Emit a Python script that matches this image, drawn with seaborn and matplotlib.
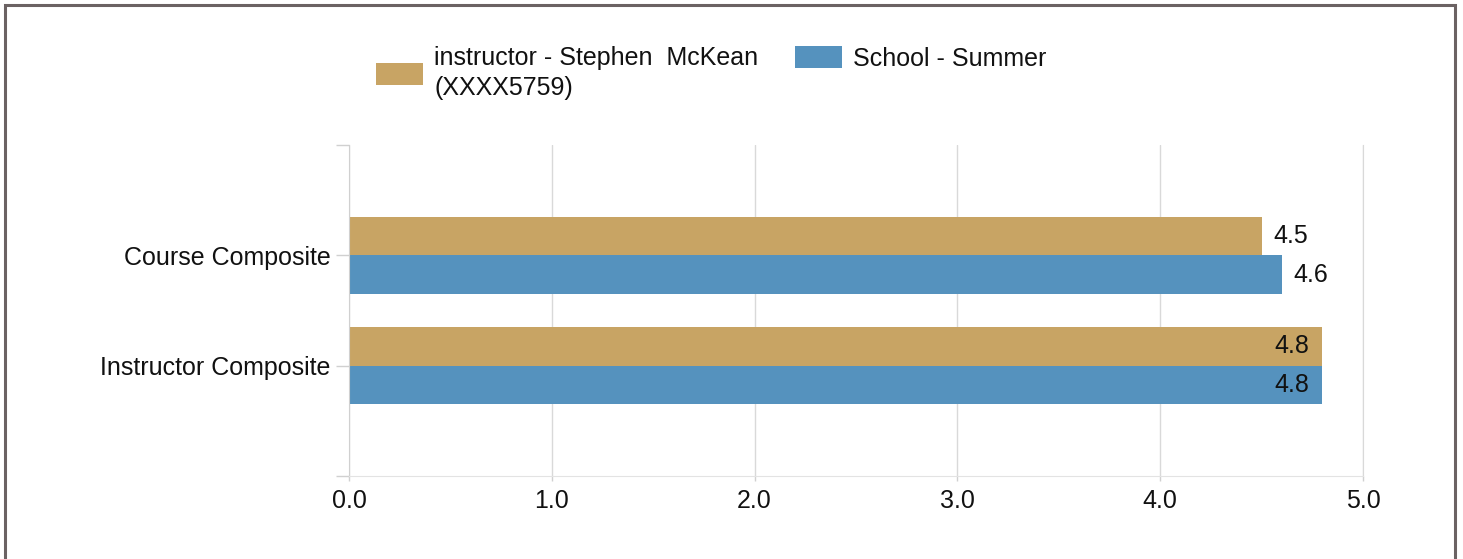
import pandas as pd
import matplotlib.pyplot as plt
import seaborn as sns
from matplotlib.patches import Rectangle

# chart data
categories = ["Course Composite", "Instructor Composite"]
series_names = ["instructor - Stephen  McKean\n(XXXX5759)", "School - Summer"]
instructor_scores = [4.5, 4.8]
school_scores = [4.6, 4.8]
x_ticks = [0.0, 1.0, 2.0, 3.0, 4.0, 5.0]

colors = ["#C8A464", "#5592BE"]
W, H = 1463, 559

df = pd.DataFrame({
    "category": categories * 2,
    "series": [series_names[0]] * len(categories) + [series_names[1]] * len(categories),
    "score": instructor_scores + school_scores,
})

sns.set_style("white")
plt.rcParams["font.family"] = ["Liberation Sans", "DejaVu Sans"]
plt.rcParams["font.size"] = 18

fig = plt.figure(figsize=(W / 100, H / 100), dpi=100)
ax = fig.add_axes([349 / W, 1 - 476 / H, 1014 / W, 331 / H])

sns.barplot(data=df, x="score", y="category", hue="series", orient="h",
            palette=colors, width=0.7, saturation=1, errorbar=None,
            linewidth=0, ax=ax)

handles, labels = ax.get_legend_handles_labels()
ax.get_legend().remove()

ax.set_xlim(0, 5)
ax.set_ylim(2, -1)
ax.set_xticks(x_ticks)
ax.set_xticklabels([f"{t:.1f}" for t in x_ticks])
ax.set_yticks([-1, 0, 1, 2])
ax.set_yticklabels([""] + categories + [""])
ax.set_xlabel("")
ax.set_ylabel("")

ax.set_axisbelow(True)
ax.grid(axis="x", color="#d9d9d9", lw=1)
ax.grid(axis="y", visible=False)
ax.spines["top"].set_visible(False)
ax.spines["right"].set_color("#d9d9d9")
ax.spines["left"].set_color("#d0d0d0")
ax.spines["bottom"].set_color("#e3e3e3")
ax.tick_params(axis="y", left=True, length=9.5, width=1, color="#d0d0d0", pad=4,
               labelsize=18, labelcolor="#111111")
ax.tick_params(axis="x", bottom=True, length=3.6, width=1, color="#d0d0d0", pad=6,
               labelsize=18, labelcolor="#111111")

# value labels: outside the bar when there is room, inside otherwise
xmax = ax.get_xlim()[1]
for container in ax.containers:
    for bar in container:
        w = bar.get_width()
        y = bar.get_y() + bar.get_height() / 2
        if w + 0.25 > xmax:
            ax.annotate(f"{w:.1f}", (w, y), xytext=(-9.5, 0), textcoords="offset points",
                        ha="right", va="center", fontsize=18, color="#111111")
        else:
            ax.annotate(f"{w:.1f}", (w, y), xytext=(8.5, 0), textcoords="offset points",
                        ha="left", va="center", fontsize=18, color="#111111")

# legend, one per series so the entries line up at the top
for handle, label, left in zip(handles, labels, [376, 795]):
    leg = fig.legend([handle], [label], loc="upper left", bbox_to_anchor=(left / W, 1 - 46 / H),
                     frameon=False, borderpad=0, borderaxespad=0, fontsize=18,
                     handlelength=1.88, handleheight=1.0, handletextpad=0.44)
    for t in leg.get_texts():
        t.set_linespacing(1.33)
        t.set_color("#111111")

# outer frame
fig.patches.append(Rectangle((5 / W, -0.1), 1450 / W, 1.1 - 5 / H, transform=fig.transFigure,
                             fill=False, edgecolor="#6b6263", lw=2.2, zorder=10))

fig.savefig("out.png", dpi=100)
